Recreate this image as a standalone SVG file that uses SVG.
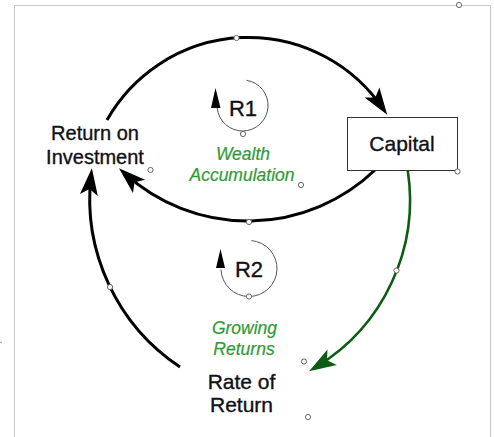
<svg xmlns="http://www.w3.org/2000/svg" width="494" height="437" viewBox="0 0 494 437">
  <defs>
    <style>
      .frame { fill: none; stroke: #c8c8c8; stroke-width: 1; }
      .label { font-family: "Liberation Sans", Arial, sans-serif; fill: #101018; stroke: #101018; stroke-width: 0.35; text-anchor: middle; }
      .loopname { font-family: "Liberation Sans", Arial, sans-serif; fill: #2f9a35; stroke: #2f9a35; stroke-width: 0.2; font-style: italic; text-anchor: middle; font-size: 17.5px; }
      .link { fill: none; stroke: #000; stroke-width: 3; }
      .link-green { fill: none; stroke: #0d5c14; stroke-width: 2.6; }
      .loop { fill: none; stroke: #555; stroke-width: 1; }
      .handle { fill: #fff; stroke: #666; stroke-width: 1; }
    </style>
    <marker id="arrow" markerUnits="userSpaceOnUse" markerWidth="32" markerHeight="22" viewBox="-1 -11 32 22" refX="19" refY="0" orient="auto">
      <path d="M0,-9 L27,0 L0,9 L6,0 z" fill="#000"/>
    </marker>
    <marker id="arrow-green" markerUnits="userSpaceOnUse" markerWidth="32" markerHeight="22" viewBox="-1 -11 32 22" refX="19" refY="0" orient="auto">
      <path d="M0,-9 L27,0 L0,9 L6,0 z" fill="#0d5c14"/>
    </marker>
  </defs>

  <rect width="494" height="437" fill="#fff"/>
  <rect class="frame" x="14.5" y="5.5" width="476" height="440"/>
  <line x1="0" y1="342" x2="2" y2="343" stroke="#999" stroke-width="1"/>

  <!-- causal links -->
  <g id="links">
    <path class="link" d="M107,120 A162.6,162.6 0 0 1 382.7,108.2" marker-end="url(#arrow)"/>
    <path class="link" d="M375,170 A183.6,183.6 0 0 1 124.9,173.6" marker-end="url(#arrow)"/>
    <path class="link" d="M180,367 A201.9,201.9 0 0 1 91.0,176.2" marker-end="url(#arrow)"/>
    <path class="link-green" d="M407.7,170 A195.5,195.5 0 0 1 315.9,367.1" marker-end="url(#arrow-green)"/>
  </g>

  <!-- variables -->
  <g id="return-on-investment">
    <text class="label" x="95" y="140" font-size="20">Return on</text>
    <text class="label" x="95" y="164" font-size="20">Investment</text>
  </g>
  <g id="capital">
    <rect x="347.5" y="117.5" width="110" height="53" fill="#fff" stroke="#333" stroke-width="1"/>
    <text class="label" x="402" y="151" font-size="21">Capital</text>
  </g>
  <g id="rate-of-return">
    <text class="label" x="241.5" y="389" font-size="21">Rate of</text>
    <text class="label" x="241.5" y="412" font-size="21">Return</text>
  </g>

  <!-- loop markers -->
  <g id="loop-r1">
    <path class="loop" d="M246.5,80.3 A25.5,25.5 0 1 1 217.2,108"/>
    <polygon points="215.5,88 211,108 220.5,108" fill="#000"/>
    <text class="label" x="243" y="115.5" font-size="22">R1</text>
    <text class="loopname" x="243" y="160">Wealth</text>
    <text class="loopname" x="242" y="181">Accumulation</text>
  </g>
  <g id="loop-r2">
    <path class="loop" d="M251.4,240.6 A28,28 0 1 1 221,269.5"/>
    <polygon points="220.5,249 216,268 225,268" fill="#000"/>
    <text class="label" x="249" y="277" font-size="22">R2</text>
    <text class="loopname" x="244.5" y="334">Growing</text>
    <text class="loopname" x="244" y="355">Returns</text>
  </g>

  <!-- selection handles -->
  <g id="handles">
    <circle class="handle" cx="459" cy="5" r="2.6"/>
    <circle class="handle" cx="236.5" cy="38" r="2.6"/>
    <circle class="handle" cx="243" cy="134" r="2.6"/>
    <circle class="handle" cx="150.5" cy="170" r="2.6"/>
    <circle class="handle" cx="301" cy="185" r="2.6"/>
    <circle class="handle" cx="457.5" cy="171.5" r="2.6"/>
    <circle class="handle" cx="249" cy="222" r="2.6"/>
    <circle class="handle" cx="110" cy="287" r="2.6"/>
    <circle class="handle" cx="249" cy="296.5" r="2.6"/>
    <circle class="handle" cx="396.5" cy="270.5" r="2.6"/>
    <circle class="handle" cx="304" cy="361.5" r="2.6"/>
    <circle class="handle" cx="308" cy="417" r="2.6"/>
  </g>
</svg>
